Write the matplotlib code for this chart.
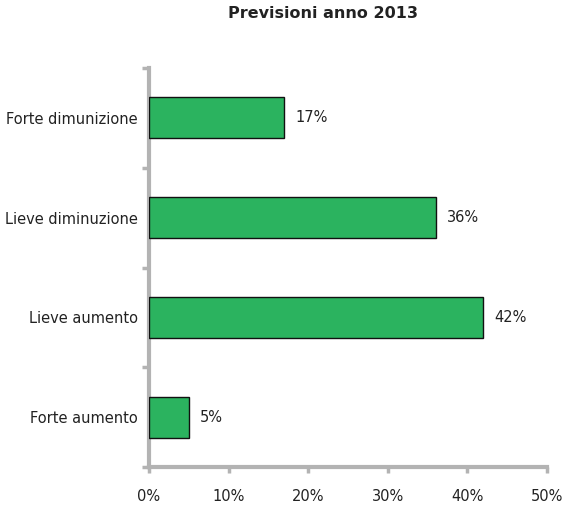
import matplotlib.pyplot as plt
import numpy as np

# forecast categories, bottom to top
categories = ['Forte aumento', 'Lieve aumento', 'Lieve diminuzione', 'Forte dimunizione']
values = [5, 42, 36, 17]
x_ticks = [0, 10, 20, 30, 40, 50]

plt.rcParams['font.family'] = ['DejaVu Sans']

fig = plt.figure(figsize=(5.65, 5.07), dpi=100)
ax = fig.add_axes([149 / 565, 1 - 467 / 507, 398 / 565, 399 / 507])

y = np.arange(len(categories))
ax.barh(y, values, height=0.41, color='#2bb35f', edgecolor='#111111', linewidth=1.0, zorder=3)

# value labels to the right of each bar
for yi, v in zip(y, values):
    ax.text(v + 1.4, yi, f'{v}%', va='center', ha='left', fontsize=10.5, color='#222222')

ax.set_xlim(0, 50)
ax.set_ylim(-0.5, 3.5)
ax.set_xticks(x_ticks)
ax.set_xticklabels([f'{t}%' for t in x_ticks], fontsize=10.5, color='#222222')
ax.set_yticks(y)
ax.set_yticklabels(categories, fontsize=10.5, color='#222222')
ax.tick_params(axis='y', which='major', length=0, pad=8)
ax.set_yticks(np.arange(-0.5, 4, 1), minor=True)
ax.tick_params(axis='y', which='minor', length=5, width=2.5, color='#b3b3b3')
ax.tick_params(axis='x', length=4, width=2.5, color='#b3b3b3', pad=12)

# thick grey axis lines
for side in ['top', 'right']:
    ax.spines[side].set_visible(False)
for side in ['left', 'bottom']:
    ax.spines[side].set_color('#b3b3b3')
    ax.spines[side].set_linewidth(3)

fig.text(323 / 565, 1 - 14 / 507, 'Previsioni anno 2013', ha='center', va='center',
         fontsize=11.5, fontweight='bold', color='#222222')

fig.savefig('out.png', dpi=100)
